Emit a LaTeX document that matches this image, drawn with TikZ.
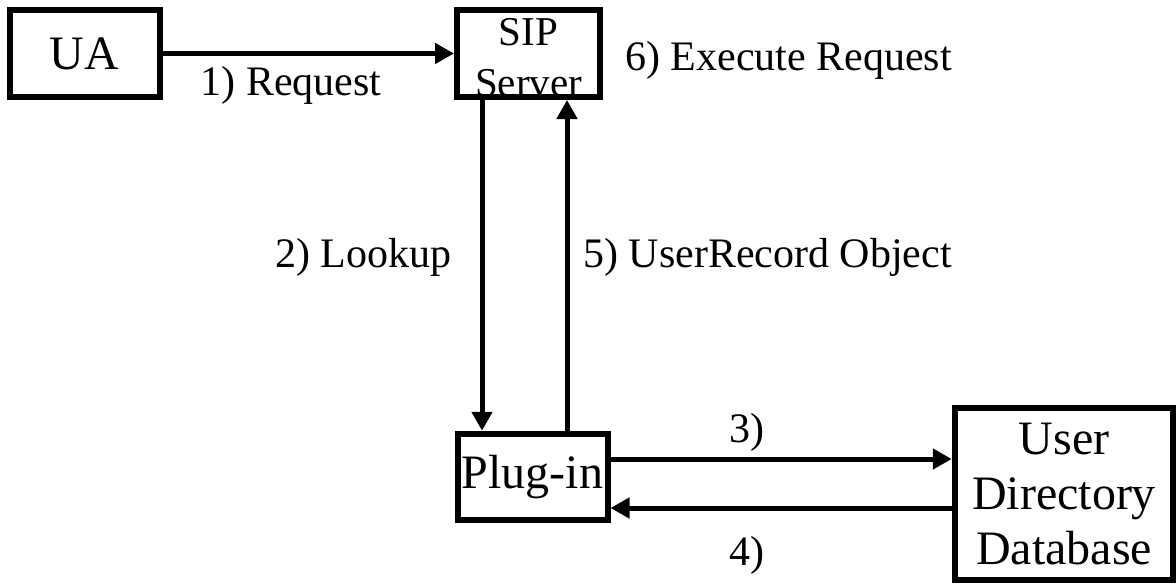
\documentclass[tikz,border=0pt]{standalone}
\usepackage{fontspec}
\setmainfont{Liberation Serif}
\usetikzlibrary{arrows.meta}

\begin{document}
\begin{tikzpicture}[x=0.5pt,y=-0.5pt,
  box/.style={draw,line width=3pt,inner sep=0pt,align=center,
    font=\fontsize{24}{27.5}\selectfont},
  arr/.style={line width=2.5pt,-{Triangle[length=9.5pt,width=10pt]}},
  lbl/.style={inner sep=0pt,font=\fontsize{21}{25}\selectfont}]
\useasboundingbox (0,0) rectangle (1176,583);
% boxes
\node[box,minimum width=75pt,minimum height=43.5pt] (ua) at (84.5,53.5) {UA};
\node[box,minimum width=71.5pt,minimum height=43.5pt] (sip) at (528.5,53.5) {};
\node[inner sep=0pt,align=center,font=\fontsize{20.5}{25.5}\selectfont]
  (siptext) at ([yshift=-2pt]sip.center) {SIP\\Server};
\node[box,minimum width=75pt,minimum height=43.25pt] (plug) at (532.5,477) {Plug-in};
\node[box,minimum width=109.25pt,minimum height=86.25pt] (db) at (1064,494)
  {User\\Directory\\Database};
% connectors
\draw[arr] (ua) -- (sip);
\draw[arr] ([xshift=-23.25pt]sip.south) -- ([xshift=-23.25pt]sip.south |- plug.north);
\draw[arr] ([xshift=19.25pt]sip.south |- plug.north) -- ([xshift=19.25pt]sip.south);
\draw[arr] ([yshift=9pt]plug.east) -- ([yshift=9pt]plug.east -| db.west);
\draw[arr] ([yshift=-15.5pt]plug.east -| db.west) -- ([yshift=-15.5pt]plug.east);
% labels
\node[lbl] (req) at (291,85) {1) Request};
\node[lbl,anchor=west] (exec) at (625,60) {6) Execute Request};
\node[lbl,anchor=east] (lookup) at (452,257) {2) Lookup};
\node[lbl,anchor=west] (record) at (583,257) {5) UserRecord Object};
\node[lbl] (three) at (747,432) {3)};
\node[lbl] (four) at (747,555) {4)};
\end{tikzpicture}
\end{document}
